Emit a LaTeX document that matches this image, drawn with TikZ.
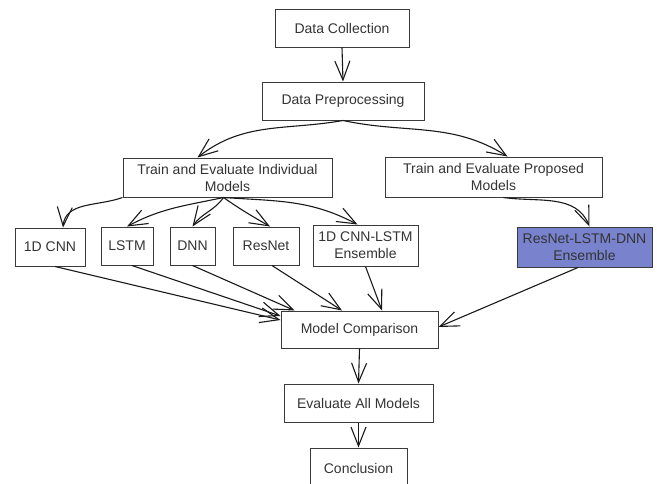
\documentclass[tikz,border=0pt]{standalone}
\usepackage{fontspec}
\setmainfont{Liberation Sans}
\usetikzlibrary{arrows.meta}
\definecolor{boxline}{HTML}{3A3A3A}
\definecolor{txt}{HTML}{333333}
\definecolor{propfill}{RGB}{121,131,205}
\tikzset{
  box/.style={draw=boxline, line width=1pt, inner sep=0pt, align=center,
    text=txt, font=\fontsize{14}{17}\selectfont},
  conn/.style={draw=black!90, line width=1.1pt,
    -{Straight Barb[length=19pt,width=15pt,line width=1.1pt]}},
}
\begin{document}
\begin{tikzpicture}[x=1pt,y=-1pt]
\useasboundingbox (0,0) rectangle (657,483);
\node[box, minimum width=134pt, minimum height=38pt] (dc) at (342,28) {Data Collection};
\node[box, minimum width=162pt, minimum height=38pt] (dp) at (343,101) {Data Preprocessing};
\node[box, minimum width=209pt, minimum height=39pt] (ti) at (227.5,177.5) {Train and Evaluate Individual\\Models};
\node[box, minimum width=217pt, minimum height=40pt] (tp) at (493.5,177) {Train and Evaluate Proposed\\Models};
\node[box, minimum width=70pt, minimum height=38pt] (cnn) at (50,247) {1D CNN};
\node[box, minimum width=52pt, minimum height=38pt] (lstm) at (127,246) {LSTM};
\node[box, minimum width=45pt, minimum height=38pt] (dnn) at (192.5,246) {DNN};
\node[box, minimum width=66pt, minimum height=38pt] (resnet) at (266,246) {ResNet};
\node[box, minimum width=105pt, minimum height=41pt] (cl) at (365.5,245.5) {1D CNN-LSTM\\Ensemble};
\node[box, fill=propfill, minimum width=135pt, minimum height=40pt] (rld) at (584.5,247) {ResNet-LSTM-DNN\\Ensemble};
\node[box, minimum width=157pt, minimum height=37pt] (mc) at (359.5,329.5) {Model Comparison};
\node[box, minimum width=149pt, minimum height=38pt] (eam) at (358.5,403) {Evaluate All Models};
\node[box, minimum width=97pt, minimum height=40pt] (con) at (358.5,468) {Conclusion};

\draw[conn] (dc.south) -- (dp.north);
\draw[conn] (dp.south) to[out=190,in=38] ([xshift=-30pt]ti.north);
\draw[conn] (dp.south) to[out=-12,in=148] ([xshift=14pt]tp.north);
\draw[conn] (ti.south west) to[out=200,in=85] ([xshift=13pt]cnn.north);
\draw[conn] ([xshift=-4pt]ti.south) to[out=192,in=28] (lstm.north);
\draw[conn] ([xshift=-4pt]ti.south) to[out=235,in=55] (dnn.north);
\draw[conn] ([xshift=-4pt]ti.south) to[out=-35,in=150] ([xshift=4pt]resnet.north);
\draw[conn] ([xshift=-4pt]ti.south) to[out=-4,in=152] ([xshift=-8pt]cl.north);
\draw[conn] ([xshift=10pt]tp.south) to[out=-8,in=112] ([xshift=5pt]rld.north);
\draw[conn] ([xshift=5pt]cnn.south) -- ([yshift=9.5pt]mc.west);
\draw[conn] ([xshift=5pt]lstm.south) -- ([yshift=13.5pt]mc.west);
\draw[conn] ([xshift=0pt]dnn.south) -- ([xshift=14pt]mc.north west);
\draw[conn] ([xshift=6pt]resnet.south) -- ([xshift=-17.5pt]mc.north);
\draw[conn] (cl.south) -- ([xshift=22.5pt]mc.north);
\draw[conn] ([xshift=-6.5pt]rld.south) -- ([yshift=2.5pt]mc.east);
\draw[conn] (mc.south) -- (eam.north);
\draw[conn] (eam.south) -- (con.north);
\end{tikzpicture}
\end{document}
